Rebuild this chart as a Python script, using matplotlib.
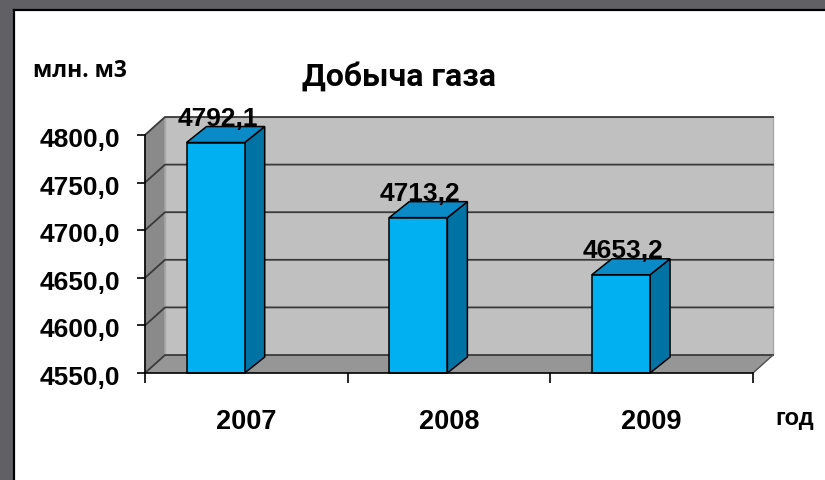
import matplotlib.pyplot as plt
from matplotlib.patches import Polygon, Rectangle
from matplotlib.lines import Line2D
from matplotlib.transforms import ScaledTranslation

# data
years = ['2007', '2008', '2009']
gas_output = [4792.1, 4713.2, 4653.2]
value_labels = ['4792,1', '4713,2', '4653,2']
y_ticks = [4550, 4600, 4650, 4700, 4750, 4800]
y_tick_labels = ['4550,0', '4600,0', '4650,0', '4700,0', '4750,0', '4800,0']

y_min, y_max = 4550, 4800
n = len(years)

# 3d look: depth offsets in data units
wall_dx, wall_dy = 0.0987, 18.9
bar_dx, bar_dy = 0.0987, 16.8
bar_x0, bar_w = 0.205, 0.287

W, H = 825, 480
fig = plt.figure(figsize=(W / 100, H / 100), dpi=100, facecolor='#616065')

#white panel with black edge on left/top
fig.patches.append(Rectangle((15 / W, 0), 1, 1 - 10.5 / H, transform=fig.transFigure,
                             facecolor='white', edgecolor='none', zorder=-5))
fig.add_artist(Line2D([14.5 / W, 14.5 / W], [0, 1 - 10 / H], color='black', lw=1.6, zorder=-4))
fig.add_artist(Line2D([14.5 / W, 1], [1 - 10 / H, 1 - 10 / H], color='black', lw=1.6, zorder=-4))

ax = fig.add_axes([145 / W, 1 - 373 / H, 608 / W, 238 / H])
ax.set_zorder(2)
ax.set_xlim(0, n)
ax.set_ylim(y_min, y_max)
ax.patch.set_visible(False)

#walls and floor
left_wall = [(0, y_min), (wall_dx, y_min + wall_dy), (wall_dx, y_max + wall_dy), (0, y_max)]
back_wall = [(wall_dx, y_min + wall_dy), (n + wall_dx, y_min + wall_dy),
             (n + wall_dx, y_max + wall_dy), (wall_dx, y_max + wall_dy)]
floor = [(0, y_min), (n, y_min), (n + wall_dx, y_min + wall_dy), (wall_dx, y_min + wall_dy)]
ax.add_patch(Polygon(left_wall, closed=True, facecolor='#8a8a8a', edgecolor='#a8a8a8', lw=1, clip_on=False, zorder=1))
ax.add_patch(Polygon(back_wall, closed=True, facecolor='#c0c0c0', edgecolor='#a8a8a8', lw=1, clip_on=False, zorder=1))
ax.add_patch(Polygon(floor, closed=True, facecolor='#969696', edgecolor='none', clip_on=False, zorder=1))

#gridlines on left and back walls
for y in y_ticks:
    ax.plot([0, wall_dx, n + wall_dx], [y, y + wall_dy, y + wall_dy],
            color='#3a3a3a', lw=1.3, clip_on=False, zorder=2)
ax.plot([n, n + wall_dx], [y_min, y_min + wall_dy], color='#505050', lw=1, clip_on=False, zorder=2)

#bars
for i, v in enumerate(gas_output):
    x0 = i + bar_x0
    x1 = x0 + bar_w
    front = [(x0, y_min), (x1, y_min), (x1, v), (x0, v)]
    top = [(x0, v), (x1, v), (x1 + bar_dx, v + bar_dy), (x0 + bar_dx, v + bar_dy)]
    side = [(x1, y_min), (x1 + bar_dx, y_min + bar_dy), (x1 + bar_dx, v + bar_dy), (x1, v)]
    ax.add_patch(Polygon(side, closed=True, facecolor='#0072a3', edgecolor='black', lw=1.1, clip_on=False, zorder=4))
    ax.add_patch(Polygon(top, closed=True, facecolor='#0a8ac6', edgecolor='black', lw=1.1, clip_on=False, zorder=4))
    ax.add_patch(Polygon(front, closed=True, facecolor='#00b0f0', edgecolor='black', lw=1.1, clip_on=False, zorder=5))
    ax.text(x0 + bar_w / 2 + 0.01, v + bar_dy + 1.0, value_labels[i], ha='center', va='baseline',
            fontsize=19, fontweight='bold', family='Liberation Sans', zorder=10)

#front axes
for s in ['top', 'right']:
    ax.spines[s].set_visible(False)
for s in ['left', 'bottom']:
    ax.spines[s].set_color('black')
    ax.spines[s].set_linewidth(1.2)
    ax.spines[s].set_zorder(6)

ax.set_yticks(y_ticks)
ax.set_yticklabels(y_tick_labels, fontsize=19, fontweight='bold', family='Liberation Sans')
ax.tick_params(axis='y', direction='out', length=5.8, width=1.2, pad=12.2)
#labels sit a little below their ticks in the original
shift = ScaledTranslation(0, -2.5 / 100, fig.dpi_scale_trans)
for t in ax.yaxis.get_major_ticks():
    t.label1.set_transform(t.label1.get_transform() + shift)

ax.set_xticks(range(n + 1))
ax.set_xticklabels([])
ax.set_xticks([i + 0.5 for i in range(n)], minor=True)
ax.set_xticklabels(years, minor=True, fontsize=19.5, fontweight='bold', family='Liberation Sans')
ax.tick_params(axis='x', which='major', direction='out', length=7.2, width=1.2)
ax.tick_params(axis='x', which='minor', length=0, pad=26)

fig.text(399 / W, 1 - 86 / H, 'Добыча газа', ha='center', va='baseline',
         fontsize=23, fontweight='bold', family='Roboto')
fig.text(33 / W, 1 - 77 / H, 'млн. м3', ha='left', va='baseline',
         fontsize=16.5, fontweight='bold', family='Open Sans')
fig.text(775 / W, 1 - 425 / H, 'год', ha='left', va='baseline',
         fontsize=17, fontweight='bold', family='Liberation Sans')

fig.savefig('out.png', dpi=100, facecolor=fig.get_facecolor())
